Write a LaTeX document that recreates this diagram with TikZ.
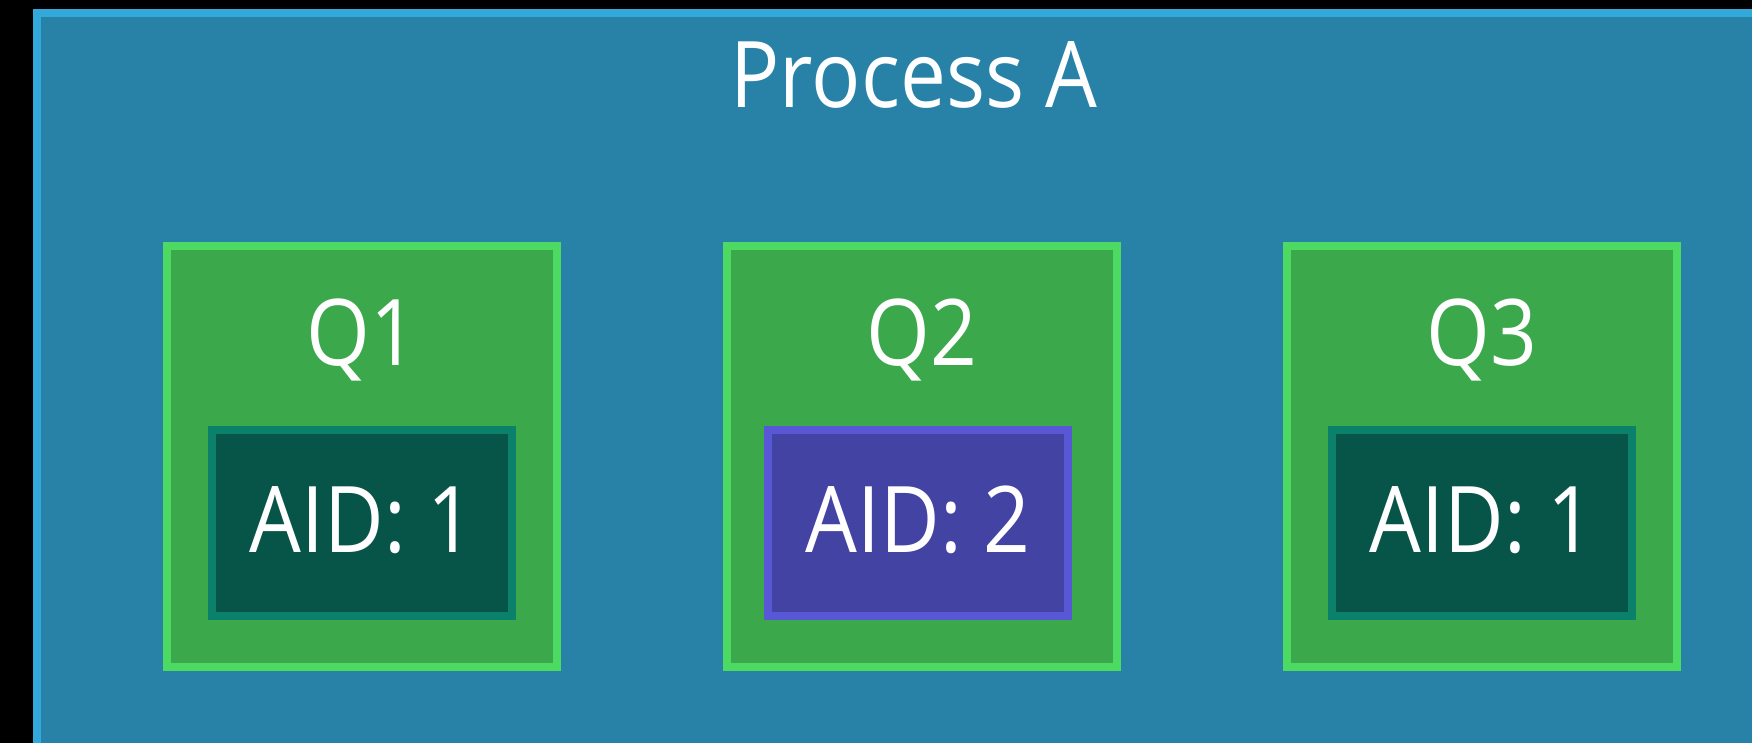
\documentclass[tikz,border=0pt]{standalone}
\usepackage{fontspec}
\setmainfont{Open Sans}[FakeStretch=0.89]
\usetikzlibrary{positioning}

\definecolor{procfill}{HTML}{2882A8}
\definecolor{procline}{HTML}{33A8DA}
\definecolor{qfill}{HTML}{3BA84B}
\definecolor{qline}{HTML}{4CDA62}
\definecolor{aidfill}{HTML}{075548}
\definecolor{aidline}{HTML}{0B806A}
\definecolor{otherfill}{HTML}{4343A3}
\definecolor{otherline}{HTML}{5858D6}

\begin{document}
\begin{tikzpicture}[x=1pt,y=-1pt,
  queue/.style={draw=qline, fill=qfill, line width=8pt, minimum width=390pt, minimum height=421pt, inner sep=0pt},
  aidbox/.style={draw=aidline, fill=aidfill, line width=8pt, minimum width=300pt, minimum height=186pt, inner sep=0pt},
  otherbox/.style={aidbox, draw=otherline, fill=otherfill},
  lbl/.style={text=white, anchor=base, inner sep=0pt, font=\fontsize{92}{100}\selectfont}]
  \useasboundingbox (0,0) rectangle (1752,743);
  \clip (0,0) rectangle (1752,743);
  \fill[black] (0,0) rectangle (1752,743);
  % the process frame runs off the right and bottom edges
  \draw[procline, fill=procfill, line width=8pt] (37,13.5) rectangle (1800,800);
  \node[lbl] (title) at (914,108) {Process A};
  \foreach \i/\x/\ax/\aid/\kind in {1/362/362/1/aidbox, 2/922/918/2/otherbox, 3/1482/1482/1/aidbox} { %one queue each
    \node[queue] (q\i) at (\x,456.5) {};
    \node[lbl] (qname\i) at (\x,365) {Q\i};
    \node[\kind] (aid\i) at (\ax,523) {};
    \node[lbl] (aidtext\i) at (\ax,552) {AID: \aid};
  }
\end{tikzpicture}
\end{document}
